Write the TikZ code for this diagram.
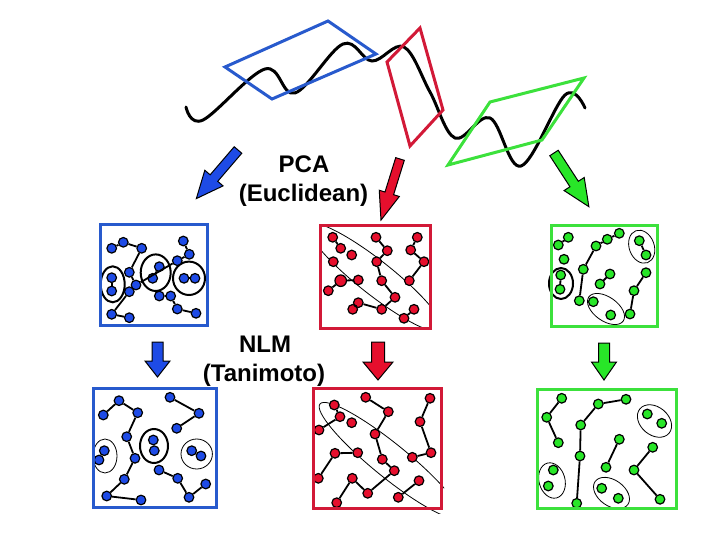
\documentclass[tikz,border=0pt]{standalone}
\usepackage{fontspec}
\setmainfont{Liberation Sans}
\usetikzlibrary{shapes.geometric}
\definecolor{fblue}{RGB}{40,90,205}
\definecolor{dblue}{RGB}{30,75,230}
\definecolor{fred}{RGB}{210,25,55}
\definecolor{dred}{RGB}{230,15,45}
\definecolor{fgreen}{RGB}{60,225,60}
\definecolor{dgreen}{RGB}{40,230,40}
\newcommand{\fatarrow}[8]{%
  \begin{scope}[shift={(#1,#2)},rotate=#3]
    \draw[fill=#8, line width=1pt, line join=miter]
      (0,-#5/2) -- ({#4-#7},-#5/2) -- ({#4-#7},-#6/2) -- (#4,0) --
      ({#4-#7},#6/2) -- ({#4-#7},#5/2) -- (0,#5/2) -- cycle;
  \end{scope}}
\tikzset{
  dotbase/.style={circle, draw=black, line width=1.2pt, inner sep=0pt, minimum size=9.6pt},
  bdot/.style={dotbase, fill=dblue},
  rdot/.style={dotbase, fill=dred},
  gdot/.style={dotbase, fill=dgreen},
  link/.style={draw=black, line width=1.8pt},
  ring/.style={draw=black, line width=0.8pt},
  thickring/.style={draw=black, line width=2pt},
  frame/.style={line width=3pt},
  lbl/.style={font=\fontsize{24}{29}\selectfont\bfseries, anchor=base, inner sep=0pt},
}
\begin{document}
\begin{tikzpicture}[x=1pt,y=-1pt]
\useasboundingbox (0,0) rectangle (720,540);

% wave
\draw[line width=3pt, line cap=round] plot[smooth, tension=0.6] coordinates {
 (186,107) (203,120) (265,69) (295,93) (343,44) (372,61) (404,47) (430,92)
 (455,138) (490,118) (521,166) (565,95) (585,108)};

% parallelograms
\draw[fblue, line width=3pt, line join=miter] (225,67) -- (328,21) -- (376,54) -- (272,99) -- cycle;
\draw[fred, line width=3pt, line join=miter] (420,28) -- (443,110) -- (410,146) -- (387,62) -- cycle;
\draw[fgreen, line width=3pt, line join=miter] (490,102) -- (584,78) -- (542,140) -- (448,165) -- cycle;

% labels
\node[lbl] (pca) at (304,173) {PCA};
\node[lbl] (eucl) at (303.5,201.5) {(Euclidean)};
\node[lbl] (nlm) at (265,352) {NLM};
\node[lbl] (tani) at (264,381) {(Tanimoto)};

% fat arrows
\fatarrow{238}{150}{-130.6}{64}{10}{24}{27}{dblue}
\fatarrow{400}{159}{-107.3}{64}{9}{21}{28}{dred}
\fatarrow{554}{153}{-57}{64}{10}{24}{27}{dgreen}
\fatarrow{157.5}{342}{-90}{35}{11}{25}{16}{dblue}
\fatarrow{378}{342}{-90}{38}{13}{30}{18}{dred}
\fatarrow{604}{343}{-90}{37}{11}{25}{18}{dgreen}

% ===== top blue =====
\draw[thickring] (112.7,284.3) ellipse [x radius=12, y radius=18];
\draw[thickring] (155.7,272.7) ellipse [x radius=15, y radius=18.3];
\draw[thickring] (189,278.3) ellipse [x radius=16, y radius=16.7];
\foreach \n/\x/\y in {1/111.7/248.3, 2/123.3/242.3, 3/141.7/248.3, 4/183.3/241,
  5/189.3/254.3, 6/177.3/260.7, 7/159.3/266.7, 8/152.7/278.3, 9/111.7/277.7,
  10/111.7/291, 11/129.3/272.3, 12/136/285, 13/129.3/291.7, 14/184/278.3,
  15/195/278.3, 16/159.3/296, 17/170.7/296, 18/177.3/309, 19/196/313.3,
  20/111.7/314.3, 21/129.3/317.7}
  \node[bdot] (ta\n) at (\x,\y) {};
\foreach \a/\b in {1/2, 2/3, 3/11, 11/12, 12/13, 13/20, 20/21, 4/5, 5/6, 6/12,
  16/17, 17/18, 18/19, 14/15, 9/10, 7/8}
  \draw[link] (ta\a) -- (ta\b);

% ===== top red =====
\begin{scope}
  \clip (320,226) rectangle (430,328);
  \draw[ring, rotate around={-38.3:(375,277.4)}] (375,277.4) ellipse [x radius=85, y radius=17];
\end{scope}
\foreach \n/\x/\y in {1/332.7/237.3, 2/340.7/248.3, 3/351.7/255, 4/333.3/261.7,
  5/376/237.3, 6/387.3/250.7, 7/376.7/261.7, 8/417.3/237.3, 9/410.7/250,
  10/424/261.7, 12/358.3/280, 13/328.3/290.7, 14/381.7/280.7,
  15/409.3/280.7, 16/395/297.3, 17/358.3/302.7, 18/352.7/309.3, 19/381.7/309.3,
  20/404/318.3, 21/414/309.3}
  \node[rdot] (tb\n) at (\x,\y) {};
\node[rdot, minimum size=11.5pt] (tb11) at (340.7,280.7) {};
\foreach \a/\b in {1/2, 5/6, 6/7, 7/14, 14/16, 16/19, 17/19, 17/18, 8/9, 9/10,
  10/15, 11/12, 11/13, 20/21}
  \draw[link] (tb\a) -- (tb\b);

% ===== top green =====
\draw[thickring] (561,283.5) ellipse [x radius=12, y radius=15.5];
\draw[ring, rotate around={-70:(641.7,246.7)}] (641.7,246.7) ellipse [x radius=17, y radius=12.5];
\draw[ring, rotate around={-35:(606,309)}] (606,309) ellipse [x radius=21, y radius=12];
\foreach \n/\x/\y in {1/568.3/237.3, 2/558.3/245, 3/564/259.3, 4/560.7/275,
  5/560/289.3, 6/619.3/233.3, 7/607.3/239.3, 8/596/246, 9/639.3/240.7,
  10/646/255, 11/583.3/269.3, 12/610/274, 13/600/284, 14/646/272.7,
  15/634/290.7, 16/579.3/300.7, 17/593.3/301.7, 18/610.7/315, 19/630/314}
  \node[gdot] (tc\n) at (\x,\y) {};
\foreach \a/\b in {1/2, 6/7, 7/8, 8/11, 11/16, 14/15, 15/19, 4/5, 12/13, 9/10}
  \draw[link] (tc\a) -- (tc\b);

% ===== bottom blue =====
\draw[ring] (105,456) ellipse [x radius=12, y radius=17];
\draw[thickring] (154,446) ellipse [x radius=14, y radius=17];
\draw[ring] (196.7,454) ellipse [x radius=15.7, y radius=15];
\foreach \n/\x/\y in {1/119/400.7, 2/103.3/415, 3/137.7/412.7, 4/126.7/436.7,
  5/170/397.3, 6/199/413.3, 7/176.7/428.3, 8/153.3/440, 9/154.3/450.7,
  10/104.3/450.7, 11/99/460, 12/135/458.3, 13/191.7/450.7, 14/201/456,
  15/124.3/479.3, 16/159/470, 17/177.7/478.3, 18/205.7/484, 19/189/497.3,
  20/106.7/496, 21/141/500}
  \node[bdot] (ba\n) at (\x,\y) {};
\foreach \a/\b in {1/2, 1/3, 3/4, 4/12, 12/15, 15/20, 20/21, 5/6, 6/7, 16/17,
  17/19, 19/18, 8/9, 10/11, 13/14}
  \draw[link] (ba\a) -- (ba\b);

% ===== bottom red =====
\begin{scope}
  \clip (305,380) rectangle (444,513);
  \draw[ring, rotate around={-39:(389.9,460.6)}] (389.9,460.6) ellipse [x radius=90, y radius=17];
\end{scope}
\foreach \n/\x/\y in {1/334.3/405, 2/340/416.7, 3/351.7/422.7, 4/319/430,
  5/365.7/397.3, 6/388.3/411.7, 7/375/434, 8/430/398.3, 9/420/421.7,
  10/431/452.7, 11/412.3/457.3, 12/382.3/459.3, 13/394.3/470.7, 14/335/453.3,
  15/357.7/452.7, 16/318.3/478.3, 17/352.3/478.3, 18/367.7/493.3,
  19/336.7/502.7, 20/419/480.7, 21/398.3/497.3}
  \node[rdot] (bb\n) at (\x,\y) {};
\foreach \a/\b in {1/2, 2/4, 5/6, 6/7, 7/12, 12/13, 13/18, 17/18, 17/19, 14/15,
  14/16, 8/9, 9/10, 10/11, 20/21}
  \draw[link] (bb\a) -- (bb\b);

% ===== bottom green =====
\draw[ring, rotate around={-75:(552,480.5)}] (552,480.5) ellipse [x radius=18, y radius=13];
\draw[ring, rotate around={-35:(611.5,493)}] (611.5,493) ellipse [x radius=20, y radius=13];
\draw[ring, rotate around={-40:(654.5,421)}] (654.5,421) ellipse [x radius=19, y radius=14];
\foreach \n/\x/\y in {1/561.7/398.3, 2/546.7/417.3, 3/558.3/442.7, 4/598.3/404,
  5/626/399.3, 6/580.7/425, 7/580/456, 8/576.7/503.3, 9/619.3/439.3,
  10/606/467.3, 11/553.3/470, 12/548.3/486, 13/601.7/488.3, 14/618.3/498.3,
  15/647.3/414, 16/661.7/423.3, 17/652.7/447.3, 18/634/470, 19/660/499.3}
  \node[gdot] (bc\n) at (\x,\y) {};
\foreach \a/\b in {1/2, 2/3, 4/5, 4/6, 6/7, 7/8, 9/10, 17/18, 18/19}
  \draw[link] (bc\a) -- (bc\b);

% frames
\draw[frame, fblue] (100,225) rectangle (207,325);
\draw[frame, fred] (320,226) rectangle (430,328);
\draw[frame, fgreen] (551,226) rectangle (657,326);
\draw[frame, fblue] (93,388) rectangle (216,507);
\draw[frame, fred] (313,388) rectangle (441,508);
\draw[frame, fgreen] (537,389) rectangle (676,508);
\end{tikzpicture}
\end{document}
